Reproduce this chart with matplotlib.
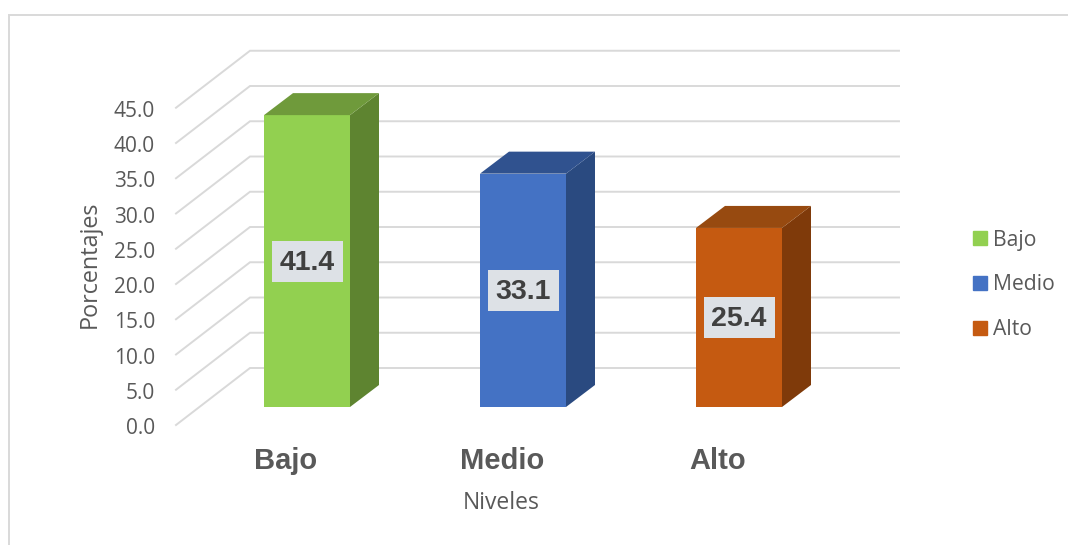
import matplotlib
matplotlib.use("Agg")
import matplotlib.pyplot as plt
from matplotlib.patches import Patch, Rectangle

categorias = ["Bajo", "Medio", "Alto"]
valori = [41.4, 33.1, 25.4]
ticks = [0, 5, 10, 15, 20, 25, 30, 35, 40, 45]
col_front = ["#92D050", "#4472C4", "#C55A11"]
col_top = ["#6F9A3B", "#30528F", "#974A10"]
col_side = ["#5E8430", "#2A4A80", "#7F3A0A"]
GRIGIO = "#595959"
W, H = 1068, 545
PX_X = 216        # pixel per categoria
PX_Y = 7.05       # pixel per unita
X0, Y0 = 307, 407


def dx(px):
    return px / PX_X


def dy(px):
    return px / PX_Y


fig = plt.figure(figsize=(W / 100, H / 100), dpi=100)
ax = fig.add_axes([0, 0, 1, 1])
ax.set_xlim(-X0 / PX_X, (W - X0) / PX_X)
ax.set_ylim((Y0 - H) / PX_Y, Y0 / PX_Y)
ax.axis("off")

# cornice del grafico
ax.add_patch(Rectangle((9 / W, -0.1), 1.1, 1 - 15 / H + 0.1, transform=ax.transAxes,
                       fill=False, ec="#D9D9D9", lw=1.4, clip_on=True))

# griglia: pavimento + parete di fondo
x_f, x_b, x_r = dx(176 - X0), dx(250 - X0), dx(899 - X0)
off_f, off_b = dy(Y0 - 425), dy(Y0 - 368)
for t in ticks:
    ax.plot([x_f, x_b, x_r], [t + off_f, t + off_b, t + off_b], color="#D9D9D9", lw=1.4, zorder=1,
            solid_joinstyle="miter")
    ax.text(dx(155 - X0), t + off_f - dy(3.5), f"{t:.1f}", ha="right", va="center", color=GRIGIO, fontsize=15,
            family="Open Sans")

# barre con profondita
larg = dx(86)
pdx, pdy = dx(29), dy(22)
for i, (c, v) in enumerate(zip(categorias, valori)):
    l, r = i - larg / 2, i + larg / 2
    ax.bar(i, v, width=larg, color=col_front[i], zorder=3)
    ax.fill([r, r + pdx, r + pdx, r], [0, pdy, v + pdy, v], color=col_side[i], lw=0, zorder=3)
    ax.fill([l, l + pdx, r + pdx, r], [v, v + pdy, v + pdy, v], color=col_top[i], lw=0, zorder=3)
    # etichetta: riquadro grigio + testo
    ax.add_patch(Rectangle((i - dx(35.5), v / 2 - dy(20.5)), dx(71), dy(41), fc="#DDE1E6", ec="none", zorder=4))
    ax.text(i, v / 2 - dy(2), f"{v:.1f}", ha="center", va="center", color="#404040", fontsize=20.5,
            fontweight="bold", family="Liberation Sans", zorder=5)
    ax.text(i - dx(21), dy(Y0 - 461), c, ha="center", va="center", color=GRIGIO, fontsize=21, fontweight="bold",
            family="Liberation Sans")

ax.text(dx(90 - X0), dy(Y0 - 264), "Porcentajes", rotation=90, ha="center", va="center", color=GRIGIO,
        fontsize=16.8, family="Open Sans")
ax.text(dx(501 - X0), dy(Y0 - 503), "Niveles", ha="center", va="center", color=GRIGIO, fontsize=16.5,
        family="Open Sans")

handles = [Patch(color=col_front[i], label=categorias[i]) for i in range(3)]
ax.legend(handles=handles, loc="center left", bbox_to_anchor=(954 / W, 1 - 285 / H), frameon=False,
          prop=dict(family="Open Sans", size=15.2), labelcolor=GRIGIO, handlelength=0.66, handleheight=0.66,
          handletextpad=0.3, labelspacing=1.13)

fig.savefig("out.png", dpi=100)
